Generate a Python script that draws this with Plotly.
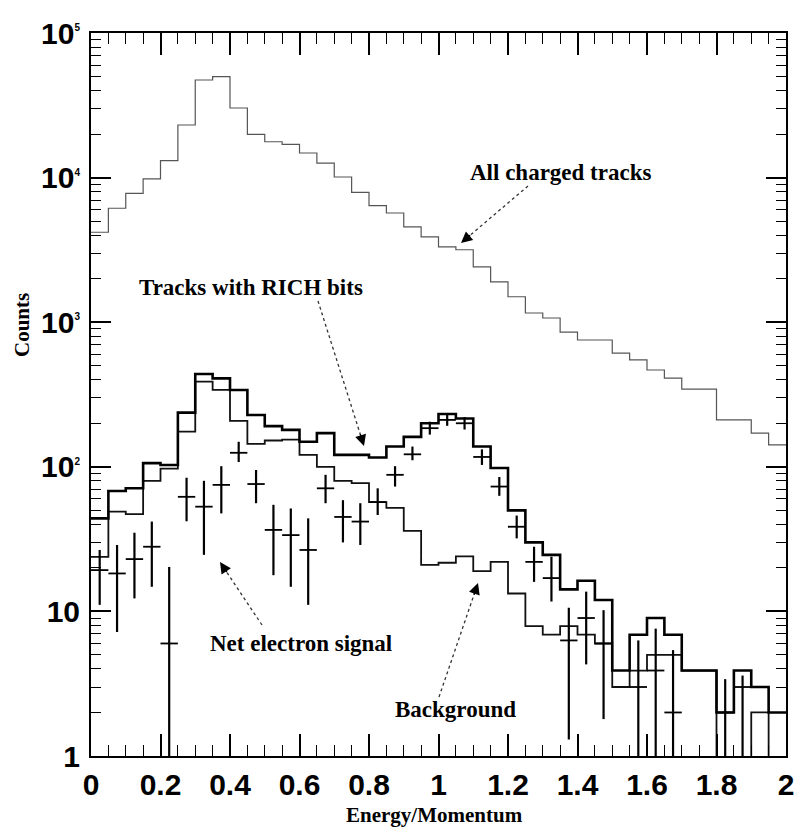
import numpy as np
import plotly.graph_objects as go

# ---------------- data ----------------
bin_width = 0.05
x_edges = np.round(np.arange(0, 2.0 + 1e-9, bin_width), 3)  # 41 bin edges, 40 bins

all_tracks = [4190, 6140, 7790, 9790, 13100, 23100, 47300, 50000, 30300, 19900,
              17700, 17000, 14800, 12600, 10100, 7900, 6400, 5690, 4570, 3890,
              3320, 3170, 2410, 1900, 1500, 1158, 1069, 855, 753, 753,
              612, 548, 467, 411, 345, 345, 211, 211, 171, 142]

rich_bits = [44, 68, 71, 106, 103, 237, 438, 409, 340, 228,
             191, 180, 149, 171, 121, 121, 116, 138, 161, 200,
             232, 216, 138, 98, 50, 30, 24.6, 14.2, 16.3, 12,
             3.9, 6.9, 9.0, 6.9, 3.9, 3.9, 2.0, 3.9, 3.0, 2.0]

background = [23.8, 49, 47, 80, 97, 175, 388, 340, 208, 144,
              152, 154, 121, 100, 80, 77, 57, 52, 36, 21,
              21.7, 24, 19, 22, 13.3, 7.9, 6.9, 7.9, 6.9, 6.0,
              3.0, 3.9, 5.0, 5.0, 3.9, 3.9, 0, 0, 2.0, 0]

# net electron signal: bin index, value, upper end, lower end of error bar
net_bin = [0, 1, 2, 3, 4, 5, 6, 7, 8, 9,
           10, 11, 12, 13, 14, 15, 16, 17, 18, 19,
           20, 21, 22, 23, 24, 25, 26, 27, 28, 29,
           31, 32, 33, 36, 37]
net_val = [19.3, 18.3, 23, 28, 6.0, 62, 53, 75, 125, 76,
           36.6, 33.7, 26.6, 71, 45, 41.8, 57, 88, 122, 185,
           211, 200, 117, 73, 38.5, 22, 17, 6.3, 9.0, 6.0,
           3.0, 3.9, 2.0, 2.0, 3.0]
net_hi = [26.6, 28.8, 35, 41.8, 20.3, 84, 80, 101, 149, 95,
          54.6, 51.5, 44, 88, 58.8, 56, 71, 101, 138, 205,
          232, 221, 132, 85, 46, 28, 23.9, 10.6, 13.7, 10.2,
          6.3, 7.6, 5.4, 3.4, 3.6]
net_lo = [11.1, 7.2, 12.3, 14.8, 1, 42, 24.6, 47.6, 108, 56,
          17.8, 14.8, 11.1, 56, 30, 28.8, 46.4, 73, 111, 167,
          192, 181, 103, 63, 32, 16, 11.7, 1.3, 4.3, 1.8,
          1, 1, 1, 1, 1]

y_tickvals = [1, 10, 100, 1000, 10000, 100000]
y_ticktext = ["1", "10",
              "10<sup><span style='font-size:10px'>2</span></sup>",
              "10<sup><span style='font-size:10px'>3</span></sup>",
              "10<sup><span style='font-size:10px'>4</span></sup>",
              "10<sup><span style='font-size:10px'>5</span></sup>"]
x_tickvals = [0, 0.2, 0.4, 0.6, 0.8, 1.0, 1.2, 1.4, 1.6, 1.8, 2.0]
x_ticktext = ["0", "0.2", "0.4", "0.6", "0.8", "1", "1.2", "1.4", "1.6", "1.8", "2"]

labels = ["All charged tracks", "Tracks with RICH bits", "Net electron signal", "Background"]

# ---------------- figure ----------------
def step_y(vals):
    v = [x if x > 0 else 0.1 for x in vals]
    return v + [v[-1]]

fig = go.Figure()
fig.add_trace(go.Scatter(x=list(x_edges), y=step_y(all_tracks), mode="lines",
                         line=dict(shape="hv", color="#555555", width=1.2),
                         name=labels[0], showlegend=False))
fig.add_trace(go.Scatter(x=list(x_edges), y=step_y(background), mode="lines",
                         line=dict(shape="hv", color="#111111", width=1.8),
                         name=labels[3], showlegend=False))
fig.add_trace(go.Scatter(x=list(x_edges), y=step_y(rich_bits), mode="lines",
                         line=dict(shape="hv", color="black", width=2.6),
                         name=labels[1], showlegend=False))

centers = [float(x_edges[i]) + bin_width / 2 for i in net_bin]
fig.add_trace(go.Scatter(
    x=centers, y=net_val, mode="markers",
    marker=dict(size=1, color="black"),
    error_y=dict(type="data", symmetric=False,
                 array=[h - v for h, v in zip(net_hi, net_val)],
                 arrayminus=[v - l for v, l in zip(net_val, net_lo)],
                 thickness=2.2, width=0, color="black"),
    error_x=dict(type="constant", value=bin_width / 2, thickness=1.8, width=0, color="black"),
    name=labels[2], showlegend=False))

# plot area in pixels: x 91..786, y 33..756
L, R, T, B = 91, 786, 33, 756
def px(xp):
    return (xp - L) / (R - L)
def py(yp):
    return (B - yp) / (B - T)

text_font = dict(family="Liberation Serif", size=23, color="black", weight="bold")
texts = [(560, 172), (251, 287), (301, 643), (455, 709)]
arrows = [((528, 186), (461, 243)), ((318, 301), (364, 446)),
          ((262, 625), (220, 562)), ((439, 697), (478, 583))]

annotations = []
shapes = []
for lab, (tx, ty) in zip(labels, texts):
    annotations.append(dict(x=px(tx), y=py(ty), xref="paper", yref="paper",
                            text=lab, showarrow=False, font=text_font,
                            xanchor="center", yanchor="middle"))
for (t, h) in arrows:
    dx, dy = t[0] - h[0], t[1] - h[1]
    n = (dx * dx + dy * dy) ** 0.5
    ux, uy = dx / n, dy / n
    shapes.append(dict(type="line", xref="paper", yref="paper",
                       x0=px(t[0]), y0=py(t[1]), x1=px(h[0] + ux * 8), y1=py(h[1] + uy * 8),
                       line=dict(color="#333333", width=1.3, dash="dot")))
    annotations.append(dict(x=px(h[0]), y=py(h[1]), xref="paper", yref="paper",
                            text="", showarrow=True, ax=ux * 14, ay=uy * 14,
                            arrowhead=2, arrowsize=1.6, arrowwidth=1.4,
                            arrowcolor="black", standoff=0))

annotations.append(dict(x=px(22), y=py(325), xref="paper", yref="paper", text="Counts",
                        showarrow=False, textangle=-90, xanchor="center", yanchor="middle",
                        font=dict(family="Liberation Serif", size=21, color="black", weight="bold")))
annotations.append(dict(x=px(434), y=py(815), xref="paper", yref="paper", text="Energy/Momentum",
                        showarrow=False, xanchor="center", yanchor="middle",
                        font=dict(family="Liberation Serif", size=21, color="black", weight="bold")))

tick_font = dict(family="Liberation Sans", size=30, color="black", weight="bold")

fig.update_layout(
    width=796, height=828,
    margin=dict(l=L, r=796 - R, t=T, b=828 - B, autoexpand=False),
    paper_bgcolor="white", plot_bgcolor="white",
    showlegend=False,
    annotations=annotations, shapes=shapes,
    xaxis=dict(range=[0, 2], tickvals=x_tickvals, ticktext=x_ticktext,
               ticks="inside", ticklen=22, tickwidth=1.5, tickcolor="black",
               showline=True, linecolor="black", linewidth=2, mirror="ticks",
               showgrid=False, zeroline=False, tickfont=tick_font,
               ticklabelstandoff=1,
               minor=dict(ticks="inside", ticklen=11, tickwidth=1, dtick=0.05,
                          tickcolor="black", showgrid=False)),
    yaxis=dict(type="log", range=[0, 5], tickvals=y_tickvals, ticktext=y_ticktext,
               ticks="inside", ticklen=20, tickwidth=1.5, tickcolor="black",
               showline=True, linecolor="black", linewidth=2, mirror="ticks",
               showgrid=False, zeroline=False, tickfont=tick_font,
               ticklabelstandoff=3,
               minor=dict(ticks="inside", ticklen=10, tickwidth=1, dtick="D1",
                          tickcolor="black", showgrid=False)),
)

fig.write_html("out.html")
